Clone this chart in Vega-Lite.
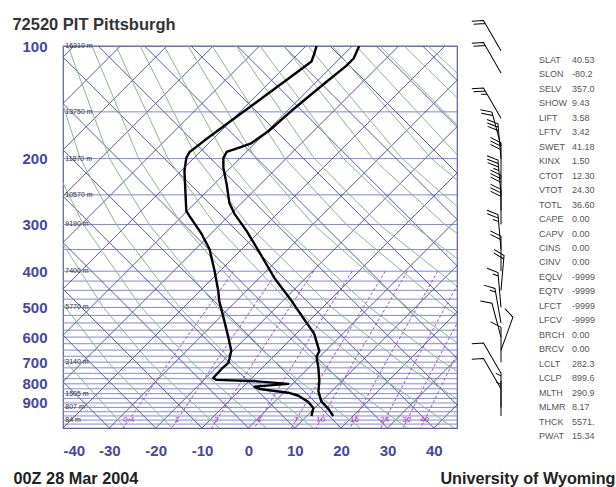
{
"$schema": "https://vega.github.io/schema/vega-lite/v6.json",
"padding": {"left": 12, "top": 16, "right": 1, "bottom": 0},
"background": "white",
"title": {"text": "72520 PIT Pittsburgh", "anchor": "start", "font": "Liberation Sans", "fontSize": 16.5, "fontWeight": "bold", "color": "#333333", "offset": -15},
"config": {"font": "Liberation Sans", "view": {"stroke": null}},
"bounds": "flush",
"spacing": 10,
"datasets": {
"isobars": [{"p":100},{"p":150},{"p":200},{"p":250},{"p":300},{"p":350},{"p":400},{"p":425},{"p":450},{"p":475},{"p":500},{"p":525},{"p":550},{"p":575},{"p":600},{"p":625},{"p":650},{"p":675},{"p":700},{"p":725},{"p":750},{"p":775},{"p":800},{"p":825},{"p":850},{"p":875},{"p":900},{"p":925},{"p":950},{"p":975},{"p":1000},{"p":1025}],
"isotherms": [{"t0":-120,"t1":-37.6},{"t0":-110,"t1":-27.6},{"t0":-100,"t1":-17.6},{"t0":-90,"t1":-7.6},{"t0":-80,"t1":2.4},{"t0":-70,"t1":12.4},{"t0":-60,"t1":22.4},{"t0":-50,"t1":32.4},{"t0":-40,"t1":42.4},{"t0":-30,"t1":52.4},{"t0":-20,"t1":62.4},{"t0":-10,"t1":72.4},{"t0":0,"t1":82.4},{"t0":10,"t1":92.4},{"t0":20,"t1":102.4},{"t0":30,"t1":112.4},{"t0":40,"t1":122.4}],
"upleft": [{"u0":-40,"u1":-122.4},{"u0":-30,"u1":-112.4},{"u0":-20,"u1":-102.4},{"u0":-10,"u1":-92.4},{"u0":0,"u1":-82.4},{"u0":10,"u1":-72.4},{"u0":20,"u1":-62.4},{"u0":30,"u1":-52.4},{"u0":40,"u1":-42.4},{"u0":50,"u1":-32.4},{"u0":60,"u1":-22.4},{"u0":70,"u1":-12.4},{"u0":80,"u1":-2.4},{"u0":90,"u1":7.6},{"u0":100,"u1":17.6},{"u0":110,"u1":27.6},{"u0":120,"u1":37.6},{"u0":130,"u1":47.6}],
"dry": [
{"th":-30,"p":1050,"x":-26.59},{"th":-30,"p":700,"x":-39.35},{"th":-30,"p":500,"x":-47.68},
{"th":-20,"p":1050,"x":-16.45},{"th":-20,"p":700,"x":-30.32},{"th":-20,"p":500,"x":-39.48},{"th":-20,"p":300,"x":-49.78},
{"th":-10,"p":1050,"x":-6.31},{"th":-10,"p":700,"x":-21.29},{"th":-10,"p":500,"x":-31.28},{"th":-10,"p":300,"x":-42.69},{"th":-10,"p":200,"x":-48.91},
{"th":0,"p":1050,"x":3.83},{"th":0,"p":700,"x":-12.26},{"th":0,"p":500,"x":-23.08},{"th":0,"p":300,"x":-35.6},{"th":0,"p":200,"x":-42.6},{"th":0,"p":100,"x":-49.28},
{"th":10,"p":1050,"x":13.97},{"th":10,"p":700,"x":-3.23},{"th":10,"p":500,"x":-14.87},{"th":10,"p":300,"x":-28.51},{"th":10,"p":200,"x":-36.28},{"th":10,"p":100,"x":-44.1},
{"th":20,"p":1050,"x":24.11},{"th":20,"p":700,"x":5.8},{"th":20,"p":500,"x":-6.67},{"th":20,"p":300,"x":-21.42},{"th":20,"p":200,"x":-29.97},{"th":20,"p":100,"x":-38.92},
{"th":30,"p":1050,"x":34.25},{"th":30,"p":700,"x":14.83},{"th":30,"p":500,"x":1.53},{"th":30,"p":300,"x":-14.33},{"th":30,"p":200,"x":-23.66},{"th":30,"p":100,"x":-33.74},
{"th":40,"p":1050,"x":44.39},{"th":40,"p":700,"x":23.86},{"th":40,"p":500,"x":9.74},{"th":40,"p":300,"x":-7.24},{"th":40,"p":200,"x":-17.34},{"th":40,"p":100,"x":-28.56},
{"th":50,"p":1050,"x":54.53},{"th":50,"p":700,"x":32.89},{"th":50,"p":500,"x":17.94},{"th":50,"p":300,"x":-0.15},{"th":50,"p":200,"x":-11.03},{"th":50,"p":100,"x":-23.38},
{"th":60,"p":1050,"x":64.67},{"th":60,"p":700,"x":41.92},{"th":60,"p":500,"x":26.14},{"th":60,"p":300,"x":6.94},{"th":60,"p":200,"x":-4.72},{"th":60,"p":100,"x":-18.2},
{"th":70,"p":1050,"x":74.81},{"th":70,"p":700,"x":50.95},{"th":70,"p":500,"x":34.35},{"th":70,"p":300,"x":14.03},{"th":70,"p":200,"x":1.59},{"th":70,"p":100,"x":-13.02},
{"th":80,"p":700,"x":59.98},{"th":80,"p":500,"x":42.55},{"th":80,"p":300,"x":21.12},{"th":80,"p":200,"x":7.91},{"th":80,"p":100,"x":-7.84},
{"th":90,"p":700,"x":69.01},{"th":90,"p":500,"x":50.75},{"th":90,"p":300,"x":28.21},{"th":90,"p":200,"x":14.22},{"th":90,"p":100,"x":-2.66},
{"th":100,"p":500,"x":58.96},{"th":100,"p":300,"x":35.3},{"th":100,"p":200,"x":20.53},{"th":100,"p":100,"x":2.52},
{"th":110,"p":500,"x":67.16},{"th":110,"p":300,"x":42.39},{"th":110,"p":200,"x":26.85},{"th":110,"p":100,"x":7.7},
{"th":120,"p":500,"x":75.36},{"th":120,"p":300,"x":49.48},{"th":120,"p":200,"x":33.16},{"th":120,"p":100,"x":12.88},
{"th":130,"p":300,"x":56.57},{"th":130,"p":200,"x":39.47},{"th":130,"p":100,"x":18.06},
{"th":140,"p":300,"x":63.66},{"th":140,"p":200,"x":45.79},{"th":140,"p":100,"x":23.24},
{"th":150,"p":300,"x":70.75},{"th":150,"p":200,"x":52.1},{"th":150,"p":100,"x":28.42},
{"th":160,"p":200,"x":58.42},{"th":160,"p":100,"x":33.6},
{"th":170,"p":200,"x":64.73},{"th":170,"p":100,"x":38.78}
],
"mixing": [
{"w":0.4,"p":1050,"x":-27.0},{"w":0.4,"p":700,"x":-17.12},{"w":0.4,"p":400,"x":-3.2},
{"w":1,"p":1050,"x":-16.55},{"w":1,"p":700,"x":-7.09},{"w":1,"p":400,"x":6.28},
{"w":2,"p":1050,"x":-7.95},{"w":2,"p":700,"x":1.14},{"w":2,"p":400,"x":14.05},
{"w":4,"p":1050,"x":1.29},{"w":4,"p":700,"x":9.98},{"w":4,"p":400,"x":22.37},
{"w":7,"p":1050,"x":9.27},{"w":7,"p":700,"x":17.6},{"w":7,"p":400,"x":29.53},
{"w":10,"p":1050,"x":14.61},{"w":10,"p":700,"x":22.69},{"w":10,"p":400,"x":34.3},
{"w":16,"p":1050,"x":21.94},{"w":16,"p":700,"x":29.67},{"w":16,"p":400,"x":40.84},
{"w":24,"p":1050,"x":28.54},{"w":24,"p":700,"x":35.95},{"w":24,"p":400,"x":46.71},
{"w":32,"p":1050,"x":33.36},{"w":32,"p":700,"x":40.53},{"w":32,"p":400,"x":50.99},
{"w":40,"p":1050,"x":37.17},{"w":40,"p":700,"x":44.14},{"w":40,"p":400,"x":54.36}
],
"mixlab": [{"lab":"0.4","x":-25.8},{"lab":"1","x":-15.4},{"lab":"2","x":-6.9},{"lab":"4","x":2.3},{"lab":"7","x":10.3},{"lab":"10","x":15.6},{"lab":"16","x":22.9},{"lab":"24","x":29.4},{"lab":"32","x":34.2},{"lab":"40","x":38.0}],
"heights": [{"p":100,"h":"16310 m"},{"p":150,"h":"13750 m"},{"p":200,"h":"11870 m"},{"p":250,"h":"10570 m"},{"p":300,"h":"9190 m"},{"p":400,"h":"7400 m"},{"p":500,"h":"5770 m"},{"p":700,"h":"3140 m"},{"p":850,"h":"1505 m"},{"p":925,"h":"807 m"},{"p":1000,"h":"84 m"}],
"sounding": [
{"s":"T","i":1,"p":100,"x":23.9},{"s":"T","i":2,"p":108,"x":22.7},{"s":"T","i":3,"p":113,"x":21.1},{"s":"T","i":4,"p":126,"x":16.4},{"s":"T","i":5,"p":149,"x":9.3},{"s":"T","i":6,"p":169,"x":4.3},{"s":"T","i":7,"p":182,"x":0.6},{"s":"T","i":8,"p":186,"x":-1.5},{"s":"T","i":9,"p":192,"x":-4.7},{"s":"T","i":10,"p":199,"x":-5.4},{"s":"T","i":11,"p":212,"x":-5.4},{"s":"T","i":12,"p":234,"x":-4.7},{"s":"T","i":13,"p":263,"x":-4.1},{"s":"T","i":14,"p":281,"x":-3.0},{"s":"T","i":15,"p":312,"x":-0.4},{"s":"T","i":16,"p":353,"x":2.2},{"s":"T","i":17,"p":417,"x":5.6},{"s":"T","i":18,"p":480,"x":9.3},{"s":"T","i":19,"p":524,"x":11.4},{"s":"T","i":20,"p":588,"x":14.2},{"s":"T","i":21,"p":654,"x":15.3},{"s":"T","i":22,"p":677,"x":14.7},{"s":"T","i":23,"p":726,"x":15.1},{"s":"T","i":24,"p":787,"x":15.3},{"s":"T","i":25,"p":837,"x":15.1},{"s":"T","i":26,"p":890,"x":15.7},{"s":"T","i":27,"p":935,"x":17.3},{"s":"T","i":28,"p":975,"x":18.3},
{"s":"Td","i":1,"p":100,"x":14.7},{"s":"Td","i":2,"p":105,"x":14.2},{"s":"Td","i":3,"p":110,"x":13.6},{"s":"Td","i":4,"p":119,"x":9.9},{"s":"Td","i":5,"p":156,"x":-3.0},{"s":"Td","i":6,"p":179,"x":-9.5},{"s":"Td","i":7,"p":188,"x":-11.7},{"s":"Td","i":8,"p":192,"x":-12.7},{"s":"Td","i":9,"p":199,"x":-13.4},{"s":"Td","i":10,"p":216,"x":-13.8},{"s":"Td","i":11,"p":276,"x":-13.4},{"s":"Td","i":12,"p":285,"x":-12.7},{"s":"Td","i":13,"p":318,"x":-10.1},{"s":"Td","i":14,"p":349,"x":-8.4},{"s":"Td","i":15,"p":399,"x":-7.3},{"s":"Td","i":16,"p":452,"x":-6.5},{"s":"Td","i":17,"p":480,"x":-6.3},{"s":"Td","i":18,"p":543,"x":-5.2},{"s":"Td","i":19,"p":603,"x":-4.3},{"s":"Td","i":20,"p":653,"x":-3.7},{"s":"Td","i":21,"p":703,"x":-4.3},{"s":"Td","i":22,"p":730,"x":-5.8},{"s":"Td","i":23,"p":772,"x":-7.6},{"s":"Td","i":24,"p":781,"x":-6.9},{"s":"Td","i":25,"p":786,"x":0.6},{"s":"Td","i":26,"p":800,"x":8.6},{"s":"Td","i":27,"p":814,"x":1.3},{"s":"Td","i":28,"p":826,"x":2.4},{"s":"Td","i":29,"p":845,"x":8.6},{"s":"Td","i":30,"p":861,"x":10.8},{"s":"Td","i":31,"p":894,"x":12.9},{"s":"Td","i":32,"p":929,"x":14.0},{"s":"Td","i":33,"p":975,"x":13.6}
],
"winds": [
{"p":103,"dir":330,"spd":20},{"p":118,"dir":330,"spd":20},{"p":156,"dir":330,"spd":25},{"p":185,"dir":345,"spd":20},{"p":200,"dir":355,"spd":30},{"p":225,"dir":0,"spd":30},{"p":250,"dir":355,"spd":35},{"p":275,"dir":0,"spd":30},{"p":300,"dir":0,"spd":30},{"p":350,"dir":355,"spd":25},{"p":400,"dir":0,"spd":20},{"p":450,"dir":5,"spd":20},{"p":500,"dir":355,"spd":15},{"p":550,"dir":350,"spd":15},{"p":600,"dir":345,"spd":10},{"p":650,"dir":20,"spd":10},{"p":700,"dir":0,"spd":10},{"p":750,"dir":330,"spd":10},{"p":825,"dir":330,"spd":10},{"p":925,"dir":0,"spd":5},{"p":975,"dir":0,"spd":5}
],
"stats": [{"k":"SLAT","v":"40.53"},{"k":"SLON","v":"-80.2"},{"k":"SELV","v":"357.0"},{"k":"SHOW","v":"9.43"},{"k":"LIFT","v":"3.58"},{"k":"LFTV","v":"3.42"},{"k":"SWET","v":"41.18"},{"k":"KINX","v":"1.50"},{"k":"CTOT","v":"12.30"},{"k":"VTOT","v":"24.30"},{"k":"TOTL","v":"36.60"},{"k":"CAPE","v":"0.00"},{"k":"CAPV","v":"0.00"},{"k":"CINS","v":"0.00"},{"k":"CINV","v":"0.00"},{"k":"EQLV","v":"-9999"},{"k":"EQTV","v":"-9999"},{"k":"LFCT","v":"-9999"},{"k":"LFCV","v":"-9999"},{"k":"BRCH","v":"0.00"},{"k":"BRCV","v":"0.00"},{"k":"LCLT","v":"282.3"},{"k":"LCLP","v":"899.6"},{"k":"MLTH","v":"290.9"},{"k":"MLMR","v":"8.17"},{"k":"THCK","v":"5571."},{"k":"PWAT","v":"15.34"}]
},
"hconcat": [
{
"width": 394, "height": 382,
"view": {"stroke": "#5a5aa8", "strokeWidth": 1.2},
"layer": [
{"data": {"name": "isobars"}, "mark": {"type": "rule", "color": "#8686d8", "strokeWidth": 1},
 "encoding": {"y": {"field": "p", "type": "quantitative", "scale": {"type": "log", "domain": [1050, 100], "nice": false, "zero": false},
   "axis": {"values": [100,200,300,400,500,600,700,800,900], "labelFontSize": 15, "labelFontWeight": "bold", "labelColor": "#4646a6", "ticks": false, "tickSize": 0, "domain": false, "grid": false, "labelPadding": 16, "title": null}}}},
{"data": {"name": "isotherms"}, "mark": {"type": "rule", "color": "#5a5aa0", "strokeWidth": 1, "clip": true},
 "encoding": {"x": {"field": "t0", "type": "quantitative", "scale": {"domain": [-40, 45], "nice": false, "zero": false},
   "axis": {"values": [-40,-30,-20,-10,0,10,20,30,40], "labelExpr": "'' + datum.value", "labelFontSize": 15, "labelFontWeight": "bold", "labelColor": "#4646a6", "ticks": false, "tickSize": 0, "domain": false, "grid": false, "labelPadding": 15,
     "title": "00Z 28 Mar 2004", "titleFontSize": 16.3, "titleFontWeight": "bold", "titleColor": "#222222", "titleAlign": "left", "titleAnchor": "start", "titleX": -50, "titleY": 50, "titleBaseline": "middle"}},
   "x2": {"field": "t1"}, "y": {"datum": 1050, "type": "quantitative"}, "y2": {"datum": 100}}},
{"data": {"name": "upleft"}, "mark": {"type": "rule", "color": "#5a5aa0", "strokeWidth": 1, "clip": true},
 "encoding": {"x": {"field": "u0", "type": "quantitative"}, "x2": {"field": "u1"}, "y": {"datum": 1050, "type": "quantitative"}, "y2": {"datum": 100}}},
{"data": {"name": "dry"}, "mark": {"type": "line", "color": "#86bb86", "strokeWidth": 1, "clip": true},
 "encoding": {"x": {"field": "x", "type": "quantitative"}, "y": {"field": "p", "type": "quantitative"}, "detail": {"field": "th"}, "order": {"field": "p", "type": "quantitative"}}},
{"data": {"name": "mixing"}, "mark": {"type": "line", "color": "#a24fc4", "strokeWidth": 1, "strokeDash": [3, 2], "clip": true},
 "encoding": {"x": {"field": "x", "type": "quantitative"}, "y": {"field": "p", "type": "quantitative"}, "detail": {"field": "w"}, "order": {"field": "p", "type": "quantitative"}}},
{"data": {"name": "mixlab"}, "mark": {"type": "text", "color": "#b030c0", "fontSize": 8, "baseline": "middle"},
 "encoding": {"x": {"field": "x", "type": "quantitative"}, "y": {"datum": 1000, "type": "quantitative"}, "text": {"field": "lab"}}},
{"data": {"name": "heights"}, "mark": {"type": "text", "color": "#333333", "fontSize": 7, "align": "left", "baseline": "middle"},
 "encoding": {"x": {"datum": -39.5, "type": "quantitative"}, "y": {"field": "p", "type": "quantitative"}, "text": {"field": "h"}}},
{"data": {"name": "sounding"}, "mark": {"type": "line", "color": "#000000", "strokeWidth": 2.4, "strokeJoin": "round", "clip": true},
 "encoding": {"x": {"field": "x", "type": "quantitative"}, "y": {"field": "p", "type": "quantitative"}, "detail": {"field": "s"}, "order": {"field": "i", "type": "quantitative"}}}
]
},
{
"width": 60, "height": 382,
"data": {"name": "winds"},
"mark": {"type": "point", "filled": false, "stroke": "#000000", "strokeWidth": 1, "size": 1225, "opacity": 1, "xOffset": 4},
"encoding": {
 "y": {"field": "p", "type": "quantitative", "scale": {"type": "log", "domain": [1050, 100], "nice": false, "zero": false}, "axis": null},
 "angle": {"field": "dir", "type": "quantitative", "scale": {"domain": [0, 360], "range": [0, 360]}},
 "shape": {"field": "spd", "type": "nominal", "legend": null, "scale": {"domain": [5,10,15,20,25,30,35,40,45,50,55,60,65,70],
  "range": [
   "M0,0L0,-2M0,-1.8L-0.3,-1.95",
   "M0,0L0,-2L-0.6,-2.3",
   "M0,0L0,-2L-0.6,-2.3M0,-1.8L-0.3,-1.95",
   "M0,0L0,-2L-0.6,-2.3M0,-1.8L-0.6,-2.1",
   "M0,0L0,-2L-0.6,-2.3M0,-1.8L-0.6,-2.1M0,-1.6L-0.3,-1.75",
   "M0,0L0,-2L-0.6,-2.3M0,-1.8L-0.6,-2.1M0,-1.6L-0.6,-1.9",
   "M0,0L0,-2L-0.6,-2.3M0,-1.8L-0.6,-2.1M0,-1.6L-0.6,-1.9M0,-1.4L-0.3,-1.55",
   "M0,0L0,-2L-0.6,-2.3M0,-1.8L-0.6,-2.1M0,-1.6L-0.6,-1.9M0,-1.4L-0.6,-1.7",
   "M0,0L0,-2L-0.6,-2.3M0,-1.8L-0.6,-2.1M0,-1.6L-0.6,-1.9M0,-1.4L-0.6,-1.7M0,-1.2L-0.3,-1.35",
   "M0,0L0,-2M0,-2L-0.6,-2.15L0,-1.75Z",
   "M0,0L0,-2M0,-2L-0.6,-2.15L0,-1.75ZM0,-1.55L-0.3,-1.7",
   "M0,0L0,-2M0,-2L-0.6,-2.15L0,-1.75ZM0,-1.55L-0.6,-1.85",
   "M0,0L0,-2M0,-2L-0.6,-2.15L0,-1.75ZM0,-1.55L-0.6,-1.85M0,-1.35L-0.3,-1.5",
   "M0,0L0,-2M0,-2L-0.6,-2.15L0,-1.75ZM0,-1.55L-0.6,-1.85M0,-1.35L-0.6,-1.65"
  ]}}
}
},
{
"width": 79, "height": 404,
"data": {"name": "stats"},
"encoding": {
 "y": {"field": "k", "type": "nominal", "sort": null, "scale": {"type": "point", "padding": 0.95}, "axis": null},
 "x": {"datum": 0, "type": "quantitative", "scale": {"domain": [0, 1]},
   "axis": {"labels": false, "ticks": false, "domain": false, "grid": false, "title": "University of Wyoming", "titleFontSize": 16.2, "titleFontWeight": "bold", "titleColor": "#222222", "titleAlign": "right", "titleAnchor": "end", "titleX": 78, "titleY": 28, "titleBaseline": "middle"}}
},
"layer": [
 {"mark": {"type": "text", "align": "left", "dx": 2, "fontSize": 9, "color": "#555555", "baseline": "middle"}, "encoding": {"text": {"field": "k"}}},
 {"mark": {"type": "text", "align": "left", "dx": 35, "fontSize": 9, "color": "#555555", "baseline": "middle"}, "encoding": {"text": {"field": "v"}}}
]
}
]
}
